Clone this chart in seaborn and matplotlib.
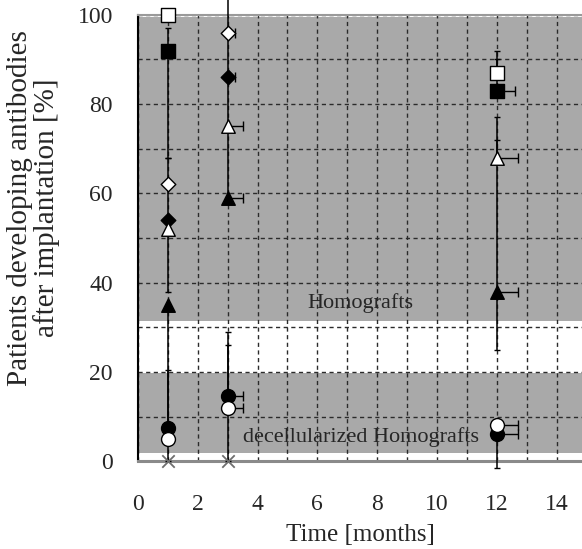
import matplotlib
matplotlib.use("Agg")
import matplotlib.pyplot as plt
import seaborn as sns
import numpy as np

# ---- data: percentage of patients developing antibodies -------------------
months = [1, 3, 12]

# homograft groups
open_square_y = [100, None, 87]
filled_square_y = [92, None, 83]
open_diamond_y = [62, 96, None]
filled_diamond_y = [54, 86, None]
open_triangle_y = [52, 75, 68]
filled_triangle_y = [35, 59, 38]
# decellularized homograft groups
filled_circle_y = [7.5, 14.5, 6]
open_circle_y = [5, 12, 8]
cross_y = [0, 0, None]

# vertical error bars (lower, upper) per time point
filled_square_yerr = [(24, 5), None, (0, 7)]
open_square_yerr = [None, None, (0, 5)]
open_diamond_yerr = [(8, 6), (0, 8), None]
filled_diamond_yerr = [(16, 0), None, None]
open_triangle_yerr = [None, None, (0, 9)]
filled_triangle_yerr = [(35, 0), (0, 37), (13, 34)]
filled_circle_yerr = [(0, 13), (14.5, 14.5), (7.5, 0)]
open_circle_yerr = [None, (0, 14), None]

# one-sided horizontal error bars (months)
open_diamond_xerr = [0, 0.25, 0]
filled_diamond_xerr = [0, 0.25, 0]
open_triangle_xerr = [0, 0.5, 0.7]
filled_triangle_xerr = [0, 0.5, 0.7]
filled_square_xerr = [0, 0, 0.6]
filled_circle_xerr = [0, 0.5, 0.7]
open_circle_xerr = [0, 0.5, 0.7]

x_ticks = list(range(0, 15))
y_ticks = [0, 20, 40, 60, 80, 100]

groups = [
    ("open square", open_square_y, open_square_yerr, None, "s", "white", 95),
    ("filled square", filled_square_y, filled_square_yerr, filled_square_xerr, "s", "black", 95),
    ("open diamond", open_diamond_y, open_diamond_yerr, open_diamond_xerr, "D", "white", 55),
    ("filled diamond", filled_diamond_y, filled_diamond_yerr, filled_diamond_xerr, "D", "black", 55),
    ("open triangle", open_triangle_y, open_triangle_yerr, open_triangle_xerr, "^", "white", 95),
    ("filled triangle", filled_triangle_y, filled_triangle_yerr, filled_triangle_xerr, "^", "black", 95),
    ("filled circle", filled_circle_y, filled_circle_yerr, filled_circle_xerr, "o", "black", 100),
    ("open circle", open_circle_y, open_circle_yerr, open_circle_xerr, "o", "white", 100),
]

sns.set_style("white")
plt.rcParams["font.family"] = ["Liberation Serif", "DejaVu Serif"]

fig = plt.figure(figsize=(5.82, 5.49), dpi=100)
ax = fig.add_axes([0.237, 0.16, 0.763, 0.813])

# background bands
band_grey = "#a9a9a9"
ax.axhspan(31.4, 99.6, color=band_grey, lw=0, zorder=0.2)
ax.axhspan(1.8, 19.7, color=band_grey, lw=0, zorder=0.2)

# error bars
for name, ys, yerr, xerr, mk, fc, s in groups:
    for i, t in enumerate(months):
        y = ys[i]
        if y is None:
            continue
        if yerr is not None and yerr[i] is not None:
            lo, hi = yerr[i]
            ax.errorbar([t], [y], yerr=[[lo], [hi]], fmt="none", ecolor="black",
                        elinewidth=1.1, capsize=2.5, capthick=1.0, zorder=3, clip_on=False)
        if xerr is not None and xerr[i]:
            ax.errorbar([t], [y], xerr=[[0], [xerr[i]]], fmt="none", ecolor="black",
                        elinewidth=1.0, capsize=3.5, capthick=1.0, zorder=3, clip_on=False)

# markers
for name, ys, yerr, xerr, mk, fc, s in groups:
    xs = [t for t, y in zip(months, ys) if y is not None]
    vs = [y for y in ys if y is not None]
    sns.scatterplot(x=xs, y=vs, marker=mk, s=s, color=fc, edgecolor="black",
                    linewidth=1.0, zorder=4, clip_on=False, ax=ax)

xs = [t for t, y in zip(months, cross_y) if y is not None]
vs = [y for y in cross_y if y is not None]
sns.scatterplot(x=xs, y=vs, marker="x", s=80, color="#6e6e6e", linewidth=1.3,
                zorder=4, clip_on=False, ax=ax)

# grid
ax.set_xlim(0, 14.85)
ax.set_ylim(0, 100)
ax.set_xticks(x_ticks)
ax.set_xticklabels([str(v) if v % 2 == 0 else "" for v in x_ticks])
ax.set_yticks(y_ticks)
ax.set_yticks(np.arange(10, 100, 20), minor=True)
ax.set_axisbelow(True)
grid_kw = dict(color="#2b2b2b", linestyle=(0, (3, 2.5)), linewidth=1.0)
ax.grid(True, which="major", **grid_kw)
ax.grid(True, which="minor", axis="y", **grid_kw)

ax.tick_params(axis="x", which="major", direction="inout", length=10, width=1.0,
               color="#555555", pad=19, labelsize=17)
ax.tick_params(axis="y", which="both", length=0, pad=18, labelsize=17)

ax.spines["right"].set_visible(False)
ax.spines["left"].set_color("black")
ax.spines["left"].set_linewidth(1.5)
ax.spines["bottom"].set_color("#8a8a8a")
ax.spines["bottom"].set_linewidth(2.2)
ax.spines["top"].set_color("#9a9a9a")
ax.spines["top"].set_linewidth(1.5)

# region labels
ax.text(7.45, 35.5, "Homografts", ha="center", va="center", fontsize=16, zorder=5)
ax.text(7.45, 5.5, "decellularized Homografts", ha="center", va="center",
        fontsize=16, zorder=5)

ax.set_xlabel("Time [months]", fontsize=18, labelpad=6)
fig.text(0.058, 1 - 208 / 549, "Patients developing antibodies\nafter implantation [%]",
         rotation=90, ha="center", va="center", multialignment="center",
         fontsize=21, linespacing=1.0)

fig.savefig("out.png", dpi=100)
